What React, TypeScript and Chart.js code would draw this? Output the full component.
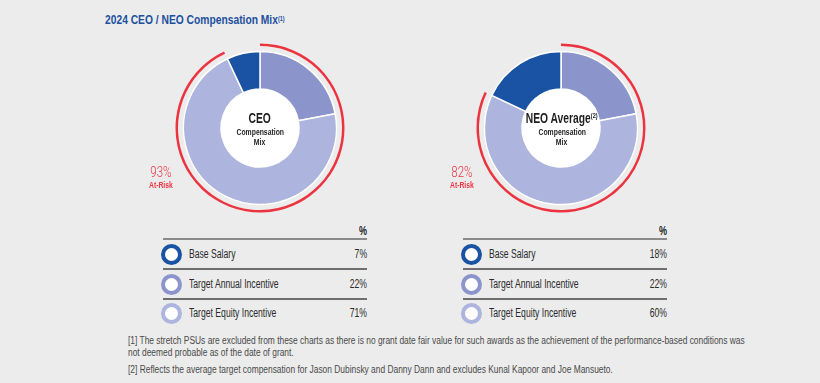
import React, { useEffect, useLayoutEffect, useRef, useState } from "react";
import { Chart, registerables } from "chart.js";

Chart.register(...registerables);

const categories = ["Base Salary", "Target Annual Incentive", "Target Equity Incentive"];
const ceoValues = [7, 22, 71];
const neoValues = [18, 22, 60];
const atRiskValues = [93, 82];
const panelTitles = ["CEO", "NEO Average"];
const sliceColors = ["#1a53a3", "#8b95cb", "#adb4dd"];
const drawOrder = [1, 2, 0]; // clockwise from 12 o'clock: annual, equity, base
const footnotes = [
  "[1] The stretch PSUs are excluded from these charts as there is no grant date fair value for such awards as the achievement of the performance-based conditions was",
  "not deemed probable as of the date of grant.",
  "[2] Reflects the average target compensation for Jason Dubinsky and Danny Dann and excludes Kunal Kapoor and Joe Mansueto.",
];

const RED = "#ec3340";
const BG = "#ececec";
const FONT = '"Liberation Sans", Arial, sans-serif';

function Cond({ s, origin, children }: { s: number; origin: string; children: React.ReactNode }) {
  return (
    <span
      style={{
        display: "inline-block",
        whiteSpace: "nowrap",
        transform: `scaleX(${s})`,
        transformOrigin: origin,
      }}
    >
      {children}
    </span>
  );
}

function Donut({ values, atRisk, left, top }: { values: number[]; atRisk: number; left: number; top: number }) {
  const ref = useRef<HTMLCanvasElement | null>(null);
  useEffect(() => {
    if (!ref.current) return;
    const chart = new Chart(ref.current, {
      type: "doughnut",
      data: {
        labels: drawOrder.map((i) => categories[i]),
        datasets: [
          {
            data: [atRisk, 100 - atRisk],
            backgroundColor: [RED, "rgba(0,0,0,0)"],
            borderWidth: 0,
            weight: 2.5,
          } as any,
          {
            data: [100],
            backgroundColor: ["rgba(0,0,0,0)"],
            borderWidth: 0,
            weight: 5.5,
          } as any,
          {
            data: drawOrder.map((i) => values[i]),
            backgroundColor: drawOrder.map((i) => sliceColors[i]),
            borderColor: "#ffffff",
            borderWidth: 1.5,
            weight: 37.5,
          } as any,
          {
            data: [100],
            backgroundColor: ["#ffffff"],
            borderWidth: 0,
            weight: 39,
          } as any,
        ],
      },
      options: {
        responsive: false,
        maintainAspectRatio: false,
        animation: false,
        devicePixelRatio: 1,
        events: [],
        radius: 84.5,
        cutout: 0,
        rotation: 0,
        layout: { padding: 0 },
        plugins: { legend: { display: false }, tooltip: { enabled: false } },
      } as any,
    });
    return () => chart.destroy();
  }, [values, atRisk]);
  return (
    <canvas
      ref={ref}
      width={180}
      height={180}
      style={{ position: "absolute", left, top, width: 180, height: 180 }}
    />
  );
}

function Table({ values, left }: { values: number[]; left: number }) {
  const width = 204;
  const rowYs = [254, 284, 313];
  const txt = { fontSize: 12.5, lineHeight: "14px", color: "#2b2b2b" } as React.CSSProperties;
  return (
    <>
      <div
        style={{
          position: "absolute",
          left: left + width - 40,
          width: 40,
          top: 224,
          textAlign: "right",
          fontWeight: "bold",
          fontSize: 12.5,
          lineHeight: "14px",
          color: "#222",
        }}
      >
        <Cond s={0.72} origin="right">%</Cond>
      </div>
      {[239, 269, 299].map((y, k) => (
        <div
          key={k}
          style={{
            position: "absolute",
            left,
            top: y - 0.75,
            width,
            height: 1.5,
            background: k === 0 ? "#8a8a8a" : "#6f6f6f",
          }}
        />
      ))}
      {categories.map((c, i) => (
        <React.Fragment key={c}>
          <div
            style={{
              position: "absolute",
              left: left - 2,
              top: rowYs[i] - 10.5,
              width: 21,
              height: 21,
              boxSizing: "border-box",
              borderRadius: "50%",
              border: `4.5px solid ${sliceColors[i]}`,
              background: "#fff",
            }}
          />
          <div style={{ ...txt, position: "absolute", left: left + 26, top: rowYs[i] - 7 }}>
            <Cond s={0.69} origin="left">{c}</Cond>
          </div>
          <div
            style={{ ...txt, position: "absolute", left: left + width - 80, width: 80, top: rowYs[i] - 7, textAlign: "right" }}
          >
            <Cond s={0.69} origin="right">{values[i]}%</Cond>
          </div>
        </React.Fragment>
      ))}
    </>
  );
}

function Center({ cx, title, sup }: { cx: number; title: string; sup?: string }) {
  return (
    <div
      style={{
        position: "absolute",
        left: cx - 60,
        width: 120,
        top: 109,
        textAlign: "center",
        color: "#1e1e1e",
        fontWeight: "bold",
      }}
    >
      <div style={{ fontSize: 14.5, lineHeight: "18px" }}>
        <Cond s={0.71} origin="center">
          {title}
          {sup && <span style={{ fontSize: 8, verticalAlign: "top", position: "relative", top: -2 }}>{sup}</span>}
        </Cond>
      </div>
      <div style={{ fontSize: 9, lineHeight: "10px" }}>
        <Cond s={0.76} origin="center">Compensation</Cond>
      </div>
      <div style={{ fontSize: 9, lineHeight: "10px" }}>
        <Cond s={0.76} origin="center">Mix</Cond>
      </div>
    </div>
  );
}

function AtRisk({ cx, value }: { cx: number; value: number }) {
  return (
    <div style={{ position: "absolute", left: cx - 30, width: 60, top: 164, textAlign: "center", color: RED }}>
      <div style={{ fontSize: 14, lineHeight: "17px", fontWeight: 300, fontFamily: "Roboto, sans-serif" }}>
        <Cond s={0.82} origin="center">{value}%</Cond>
      </div>
      <div style={{ fontSize: 8.5, lineHeight: "9px", fontWeight: "bold" }}>
        <Cond s={0.8} origin="center">At-Risk</Cond>
      </div>
    </div>
  );
}

function Footnotes() {
  const firstRef = useRef<HTMLSpanElement | null>(null);
  const [s, setS] = useState(0.78);
  useLayoutEffect(() => {
    if (firstRef.current) {
      const w = firstRef.current.offsetWidth;
      if (w > 0) setS(617 / w);
    }
  }, []);
  const tops = [334, 346, 363];
  return (
    <>
      {footnotes.map((t, i) => (
        <div
          key={i}
          style={{
            position: "absolute",
            left: 128,
            top: tops[i],
            fontSize: 10,
            lineHeight: "13px",
            color: "#4a4a4a",
            whiteSpace: "nowrap",
          }}
        >
          <span
            ref={i === 0 ? firstRef : undefined}
            style={{ display: "inline-block", transform: `scaleX(${s})`, transformOrigin: "left" }}
          >
            {t}
          </span>
        </div>
      ))}
    </>
  );
}

export default function App() {
  useEffect(() => {
    document.body.style.margin = "0";
    document.body.style.background = BG;
  }, []);
  return (
    <div
      style={{
        position: "relative",
        width: 820,
        height: 383,
        background: BG,
        overflow: "hidden",
        fontFamily: FONT,
      }}
    >
      <div
        style={{
          position: "absolute",
          left: 105,
          top: 12,
          fontSize: 13,
          lineHeight: "16px",
          fontWeight: "bold",
          color: "#1c50a0",
        }}
      >
        <Cond s={0.79} origin="left">
          2024 CEO / NEO Compensation Mix
          <span style={{ fontSize: 7, verticalAlign: "top", position: "relative", top: -1 }}>(1)</span>
        </Cond>
      </div>

      <Donut values={ceoValues} atRisk={atRiskValues[0]} left={170} top={38} />
      <Donut values={neoValues} atRisk={atRiskValues[1]} left={471} top={38} />

      <Center cx={260} title={panelTitles[0]} />
      <Center cx={562} title={panelTitles[1]} sup="(2)" />

      <AtRisk cx={161} value={atRiskValues[0]} />
      <AtRisk cx={462} value={atRiskValues[1]} />

      <Table values={ceoValues} left={163} />
      <Table values={neoValues} left={463} />

      <Footnotes />
    </div>
  );
}
